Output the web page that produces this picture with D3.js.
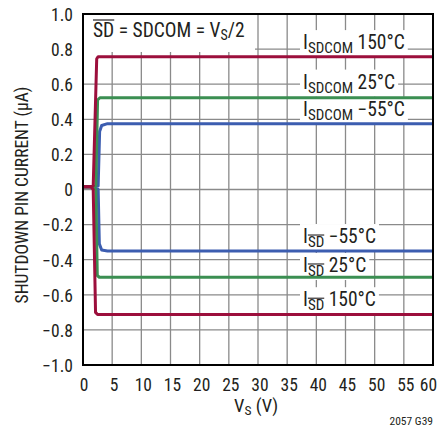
<!DOCTYPE html>
<html>
<head>
<meta charset="utf-8">
<script src="https://cdn.jsdelivr.net/npm/d3@7"></script>
<style>
body { margin: 0; background: #fff; }
svg { display: block; }
text { font-family: "Roboto Condensed", "Liberation Sans", sans-serif; fill: #231f20; }
</style>
</head>
<body>
<svg id="chart" width="441" height="434"></svg>
<script>
// ---- data ----
const xTicks = [0, 5, 10, 15, 20, 25, 30, 35, 40, 45, 50, 55, 60];
const yTicks = [-1.0, -0.8, -0.6, -0.4, -0.2, 0, 0.2, 0.4, 0.6, 0.8, 1.0];
const yTickLabels = ["\u22121.0", "\u22120.8", "\u22120.6", "\u22120.4", "\u22120.2", "0", "0.2", "0.4", "0.6", "0.8", "1.0"];

const vRedPos   = [0, 1.4, 1.75, 2.35, 2.6, 60];
const iRedPos   = [0.015, 0.015, 0.02, 0.745, 0.757, 0.757];
const vRedNeg   = [0, 1.4, 1.75, 2.15, 2.5, 60];
const iRedNeg   = [0.015, 0.015, 0.0, -0.70, -0.712, -0.712];
const vGreenPos = [0, 1.4, 2.2, 2.5, 2.9, 60];
const iGreenPos = [0.015, 0.015, 0.02, 0.51, 0.523, 0.523];
const vGreenNeg = [0, 1.4, 2.2, 2.45, 2.8, 60];
const iGreenNeg = [0.015, 0.015, 0.0, -0.49, -0.50, -0.50];
const vBluePos  = [0, 1.4, 2.6, 2.85, 3.2, 4.2, 60];
const iBluePos  = [0.015, 0.015, 0.02, 0.33, 0.365, 0.375, 0.375];
const vBlueNeg  = [0, 1.4, 2.6, 2.8, 3.2, 4.2, 60];
const iBlueNeg  = [0.015, 0.015, 0.0, -0.31, -0.345, -0.35, -0.35];

const seriesColors = { red: "#9c0f3c", green: "#3b8f52", blue: "#3c5db0" };

const series = [
  { v: vBluePos, i: iBluePos, c: seriesColors.blue },
  { v: vBlueNeg, i: iBlueNeg, c: seriesColors.blue },
  { v: vGreenPos, i: iGreenPos, c: seriesColors.green },
  { v: vGreenNeg, i: iGreenNeg, c: seriesColors.green },
  { v: vRedPos, i: iRedPos, c: seriesColors.red },
  { v: vRedNeg, i: iRedNeg, c: seriesColors.red }
];

const labelSubs = ["SDCOM", "SDCOM", "SDCOM", "SD", "SD", "SD"];
const labelRests = [" 150\u00B0C", " 25\u00B0C", " \u221255\u00B0C", " \u221255\u00B0C", " 25\u00B0C", " 150\u00B0C"];
const labelOverline = [false, false, false, true, true, true];
const labelY = [0.80, 0.575, 0.42, -0.305, -0.47, -0.665];

// ---- layout ----
const svg = d3.select("#chart");
const L = 83, R = 433, T = 14, B = 365;
const x = d3.scaleLinear().domain([0, 60]).range([L, R]);
const y = d3.scaleLinear().domain([-1, 1]).range([B, T]);

// grid
const grid = svg.append("g");
grid.selectAll(".vg").data(xTicks.slice(1, -1)).enter().append("line")
  .attr("x1", d => x(d)).attr("x2", d => x(d)).attr("y1", T).attr("y2", B)
  .attr("stroke", "#8a8a8a").attr("stroke-width", 1.3);
grid.selectAll(".hg").data(yTicks.slice(1, -1)).enter().append("line")
  .attr("y1", d => y(d)).attr("y2", d => y(d)).attr("x1", L).attr("x2", R)
  .attr("stroke", "#8a8a8a").attr("stroke-width", 1.3);

// annotation box (white background over grid)
const annot = svg.append("g");
annot.append("rect").attr("x", L + 1).attr("y", T + 1).attr("width", 171).attr("height", 37).attr("fill", "#fff");

const lblG = svg.append("g");

// curves
const line = d3.line().x(d => x(d[0])).y(d => y(d[1]));
svg.append("g").selectAll("path").data(series).enter().append("path")
  .attr("d", s => line(s.v.map((v, k) => [v, s.i[k]])))
  .attr("fill", "none").attr("stroke", s => s.c).attr("stroke-width", 3)
  .attr("stroke-linejoin", "round");

// frame
svg.append("rect").attr("x", L).attr("y", T).attr("width", R - L).attr("height", B - T)
  .attr("fill", "none").attr("stroke", "#000").attr("stroke-width", 2);

// axes tick labels
const xAxis = d3.axisBottom(x).tickValues(xTicks).tickSize(0).tickPadding(0).tickFormat(d3.format("d"));
const gx = svg.append("g").attr("transform", `translate(0,${B})`).call(xAxis);
gx.select(".domain").remove();
gx.selectAll("text").attr("dy", 0).attr("y", 26).attr("font-size", 17.5).style("font-family", null)
  .attr("dx", d => d === 60 ? -5 : (d === 0 ? 0.5 : 1.5));

const yAxis = d3.axisLeft(y).tickValues(yTicks).tickSize(0).tickPadding(0)
  .tickFormat((d, k) => yTickLabels[k]);
const gy = svg.append("g").attr("transform", `translate(${L - 10},0)`).call(yAxis);
gy.select(".domain").remove();
gy.selectAll("text").attr("dy", "0.36em").attr("font-size", 17.5).style("font-family", null);
svg.selectAll(".tick text").attr("fill", "#231f20");

// axis titles
svg.append("text").attr("transform", `translate(28,${195}) rotate(-90)`)
  .attr("text-anchor", "middle").attr("font-size", 17.5)
  .text("SHUTDOWN PIN CURRENT (\u00B5A)");

const xt = svg.append("text").attr("x", 234).attr("y", 412).attr("font-size", 18.5);
xt.append("tspan").text("V");
xt.append("tspan").attr("font-size", 13.5).attr("dy", 3).text("S");
xt.append("tspan").attr("dy", -3).text(" (V)");

svg.append("text").attr("x", 433).attr("y", 425).attr("text-anchor", "end")
  .attr("font-size", 11.5).text("2057 G39");

// annotation text
const at = annot.append("text").attr("x", 93).attr("y", 37).attr("font-size", 19.5);
const sdSpan = at.append("tspan").text("SD");
at.append("tspan").text(" = SDCOM = V");
at.append("tspan").attr("font-size", 14).attr("dy", 3).text("S");
at.append("tspan").attr("dy", -3).text("/2");
{
  const sb = sdSpan.node().getBBox();
  annot.append("line").attr("x1", sb.x).attr("x2", sb.x + sb.width).attr("y1", 20).attr("y2", 20)
    .attr("stroke", "#231f20").attr("stroke-width", 1.2);
}

// curve labels
labelSubs.forEach((sub, k) => {
  const by = y(labelY[k]);
  const g = lblG.append("g");
  const t = g.append("text").attr("x", 303).attr("y", by).attr("font-size", 19.5);
  t.append("tspan").text("I");
  const s = t.append("tspan").attr("font-size", 15).attr("dy", 4).text(sub);
  t.append("tspan").attr("dy", -4).text(labelRests[k]);
  const bb = t.node().getBBox();
  g.insert("rect", "text").attr("x", bb.x - 3).attr("y", bb.y - 1).attr("width", bb.width + 6).attr("height", bb.height + 1).attr("fill", "#fff");
  if (labelOverline[k]) {
    const sb = s.node().getBBox();
    g.append("line").attr("x1", sb.x).attr("x2", sb.x + sb.width).attr("y1", by - 8).attr("y2", by - 8)
      .attr("stroke", "#231f20").attr("stroke-width", 1.1);
  }
});
</script>
</body>
</html>
